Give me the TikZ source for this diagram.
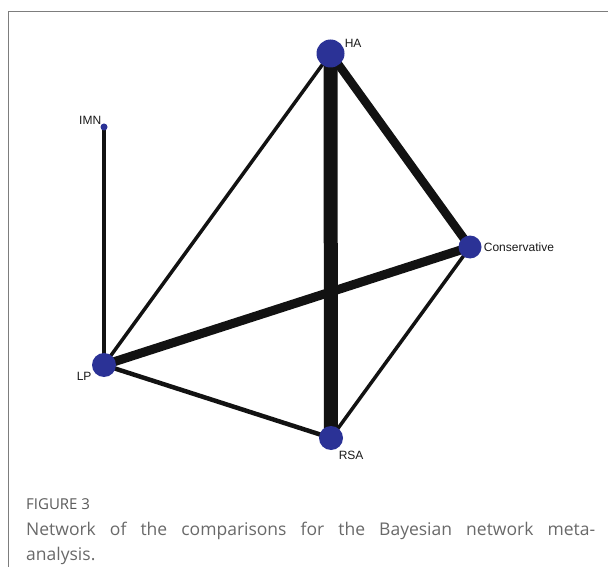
\documentclass[tikz,border=0pt]{standalone}
\usepackage{fontspec}
\setmainfont{Liberation Sans}
\newfontfamily\capfont{Open Sans}
\usetikzlibrary{positioning,backgrounds}
\definecolor{trtblue}{RGB}{43,50,150}
\definecolor{framegray}{RGB}{125,125,125}
\definecolor{capgray}{RGB}{105,105,105}

\begin{document}
\begin{tikzpicture}[x=1pt, y=-1pt,
  trt/.style={circle, fill=trtblue, inner sep=0pt, minimum size=24pt},
  every label/.style={inner sep=0pt, text=black!90, font=\fontsize{12}{13}\selectfont},
  lnk/.style={line width=#1, black!93}]
\useasboundingbox (0,0) rectangle (608,567);
\draw[framegray, line width=1pt] (8,567) -- (8,11.5) -- (608,11.5);
% treatments
\node[trt, minimum size=28pt, label={[anchor=south west, label distance=1pt]22:HA}] (ha) at (330.5,53.5) {};
\node[trt, minimum size=7pt, label={[anchor=south east, label distance=0pt]135:IMN}] (imn) at (104,127) {};
\node[trt, minimum size=23pt, label={[anchor=west, label distance=2pt]0:Conservative}] (cons) at (470,247) {};
\node[trt, label={[anchor=north east, label distance=2pt]210:LP}] (lp) at (104,365) {};
\node[trt, label={[anchor=north west, label distance=3pt]-60:RSA}] (rsa) at (331,438) {};
% comparisons
\begin{scope}[on background layer]
\draw[lnk=14pt] (ha.center)--(rsa.center);\draw[lnk=8.5pt] (ha.center)--(cons.center);\draw[lnk=9pt] (lp.center)--(cons.center);
\draw[lnk=3.5pt] (ha.center)--(lp.center);\draw[lnk=4.5pt] (imn.center)--(lp.center);\draw[lnk=4.5pt] (lp.center)--(rsa.center);\draw[lnk=3.5pt] (rsa.center)--(cons.center);
\end{scope}
% caption
\node[anchor=base west, inner sep=0pt, text=capgray!110, font=\capfont\fontsize{15}{17}\selectfont] (fig) at (26,509) {FIGURE 3};
\node[anchor=north west, inner sep=0pt, text width=569pt, align=justify, text=capgray, font=\capfont\fontsize{17.5}{25}\selectfont] (cap) at (26,521.5) {Network of the comparisons for the Bayesian network meta-\linebreak analysis.};
\end{tikzpicture}
\end{document}
